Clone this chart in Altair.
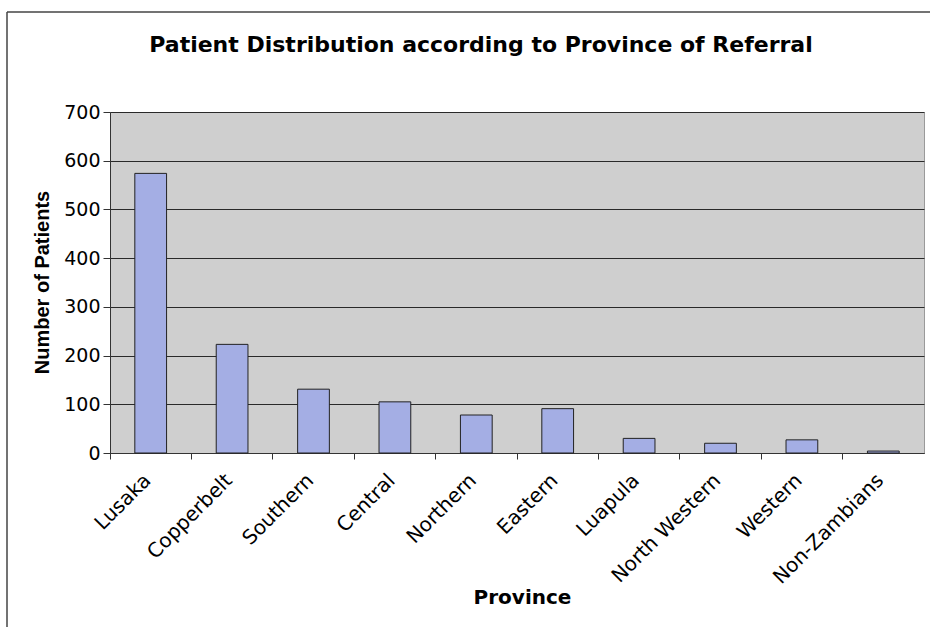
import altair as alt
import pandas as pd

provinces = ["Lusaka", "Copperbelt", "Southern", "Central", "Northern",
             "Eastern", "Luapula", "North Western", "Western", "Non-Zambians"]
patients = [574, 223, 131, 105, 78, 91, 30, 20, 27, 4]
y_ticks = [0, 100, 200, 300, 400, 500, 600, 700]

df = pd.DataFrame({"Province": provinces, "Patients": patients})

xscale = alt.Scale(domain=provinces, paddingInner=0, paddingOuter=0)
yscale = alt.Scale(domain=[0, 700], nice=False)

base = alt.Chart(df)

bars = base.mark_bar(
    width=alt.RelativeBandSize(0.39), color="#a4aee4", stroke="#222222", strokeWidth=1
).encode(
    x=alt.X("Province:N", scale=xscale, sort=provinces,
            axis=alt.Axis(orient="bottom", title="Province", labelAngle=-45,
                          labelAlign="right", labelBaseline="middle",
                          labelPadding=24, labelOffset=-3, ticks=False, domain=False,
                          labelFont="DejaVu Sans", labelFontSize=20, labelColor="#000",
                          titleFont="DejaVu Sans", titleFontSize=20, titleFontWeight="bold",
                          titleColor="#000", titleY=150, titleBaseline="alphabetic",
                          titleX=412)),
    y=alt.Y("Patients:Q", scale=yscale,
            axis=alt.Axis(values=y_ticks, title="Number of Patients",
                          grid=True, gridColor="#2a2a2a", gridWidth=1,
                          tickSize=7, tickColor="#333", domainColor="#333",
                          labelPadding=3, labelFont="DejaVu Sans", labelFontSize=19,
                          labelColor="#000",
                          titleFont="Liberation Sans", titleFontSize=20,
                          titleFontWeight="bold", titleColor="#000",
                          titleAngle=-90, titleX=-68, titleY=170,
                          titleAlign="center", titleBaseline="middle")),
)

ticks_layer = base.mark_tick(opacity=0).encode(
    x=alt.X("Province:N", scale=xscale, sort=provinces,
            axis=alt.Axis(orient="bottom", title=None, labels=False, ticks=True,
                          bandPosition=0, tickSize=6, tickColor="#333",
                          domainColor="#333", domain=True)),
)

frame_data = alt.Data(values=[{"k": 1}])
frame_top = alt.Chart(frame_data).mark_rule(color="#444", strokeWidth=1.5).encode(
    x=alt.value(-103), x2=alt.value(830), y=alt.value(-100))
frame_left = alt.Chart(frame_data).mark_rule(color="#444", strokeWidth=1.5).encode(
    x=alt.value(-103), y=alt.value(-100), y2=alt.value(520))

chart = alt.layer(bars, ticks_layer, frame_top, frame_left).resolve_axis(
    x="independent"
).properties(
    width=814,
    height=341,
    background="white",
    title=alt.TitleParams(
        text="Patient Distribution according to Province of Referral",
        font="DejaVu Sans", fontSize=22, fontWeight="bold", color="#000",
        anchor="middle", dx=-36, offset=-63, baseline="alphabetic"),
    autosize=alt.AutoSizeParams(type="none"),
    padding={"left": 110, "top": 112, "right": 6, "bottom": 174},
).configure_view(
    fill="#cfcfcf", stroke="#9a9a9a"
)

chart.save("out.html", embed_options={"renderer": "svg", "actions": False})
